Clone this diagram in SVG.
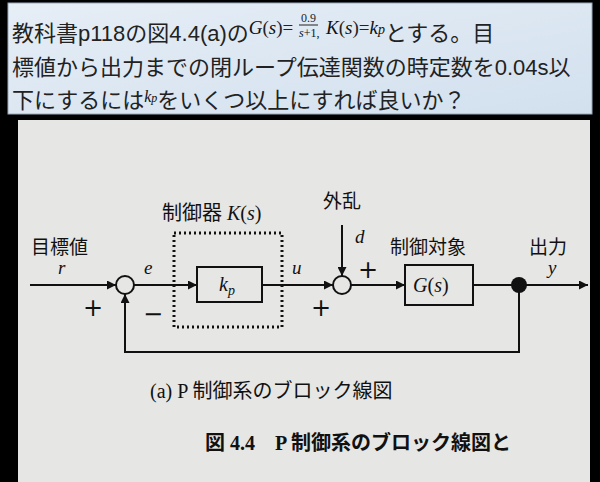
<svg xmlns="http://www.w3.org/2000/svg" width="600" height="482" viewBox="0 0 600 482">
<defs>
<marker id="ah" viewBox="0 0 10 10" refX="10" refY="5" markerWidth="9" markerHeight="9" markerUnits="userSpaceOnUse" orient="auto"><path d="M0,0L10,5L0,10z" fill="#111"/></marker>
<linearGradient id="bg" x1="0" y1="0" x2="1" y2="1"><stop offset="0" stop-color="#e6eef6"/><stop offset="1" stop-color="#d2e0ee"/></linearGradient>
<clipPath id="cp"><rect x="18" y="120" width="572" height="362"/></clipPath>
</defs>
<style>
.q{font-family:"Liberation Sans","Noto Sans CJK JP",sans-serif;font-size:22px;fill:#222}
.m{font-family:"Liberation Serif",serif;font-style:italic;fill:#111}
.j{font-family:"Noto Sans CJK JP",sans-serif;font-size:19px;fill:#111}
.s{font-family:"Liberation Serif","Noto Sans CJK JP",serif;font-size:20px;fill:#111}
.p{font-family:"DejaVu Sans",sans-serif;font-size:24px;fill:#111}
.ln{stroke:#111;stroke-width:2;fill:none}
</style>
<rect width="600" height="482" fill="#000"/>
<rect x="8" y="3" width="584" height="111" fill="url(#bg)" stroke="#9ab" stroke-width="1"/>
<text class="q" x="12" y="41">教科書p118の図4.4(a)の<tspan class="m" font-size="19" dy="-7">G</tspan><tspan font-family="Liberation Serif" font-size="19">(</tspan><tspan class="m" font-size="19">s</tspan><tspan font-family="Liberation Serif" font-size="19">)=</tspan></text>
<text font-family="Liberation Serif" font-size="12" x="301" y="22" fill="#222">0.9</text>
<line x1="299" y1="25" x2="318" y2="25" stroke="#222" stroke-width="1"/>
<text class="m" font-size="12" x="299" y="37">s<tspan font-style="normal">+1,</tspan></text>
<text class="q" x="326" y="41"><tspan class="m" font-size="19" dy="-7">K</tspan><tspan font-family="Liberation Serif" font-size="19">(</tspan><tspan class="m" font-size="19">s</tspan><tspan font-family="Liberation Serif" font-size="19">)=</tspan><tspan class="m" font-size="19">k</tspan><tspan class="m" font-size="14">p</tspan><tspan dy="7">とする。目</tspan></text>
<text class="q" x="12" y="75">標値から出力までの閉ループ伝達関数の時定数を0.04s以</text>
<text class="q" x="12" y="108">下にするには<tspan class="m" font-size="16" dy="-6">k</tspan><tspan class="m" font-size="12">p</tspan><tspan dy="6">をいくつ以上にすれば良いか？</tspan></text>
<rect x="18" y="120" width="572" height="362" fill="#e6e6e4"/>
<g id="connectors">
<line class="ln" x1="30" y1="285" x2="116" y2="285" marker-end="url(#ah)"/>
<line class="ln" x1="134" y1="285" x2="197" y2="285" marker-end="url(#ah)"/>
<line class="ln" x1="262" y1="285" x2="333" y2="285" marker-end="url(#ah)"/>
<line class="ln" x1="342" y1="225" x2="342" y2="276" marker-end="url(#ah)"/>
<line class="ln" x1="351" y1="285" x2="405" y2="285" marker-end="url(#ah)"/>
<line class="ln" x1="473" y1="285" x2="588" y2="285" marker-end="url(#ah)"/>
<polyline class="ln" points="519,285 519,352 125,352 125,294" marker-end="url(#ah)"/>
</g>
<g id="sum1"><circle cx="125" cy="285" r="9" fill="#e6e6e4" stroke="#111" stroke-width="2"/></g>
<g id="controller"><rect x="174" y="233" width="108" height="94" fill="none" stroke="#111" stroke-width="3" stroke-dasharray="2,3"/>
<text class="s" x="162" y="220">制御器 <tspan class="m">K</tspan>(<tspan class="m">s</tspan>)</text></g>
<g id="kp"><rect x="197" y="267" width="65" height="35" fill="#e6e6e4" stroke="#111" stroke-width="2"/>
<text class="m" font-size="20" x="219" y="291">k<tspan font-size="14" dy="4">p</tspan></text></g>
<g id="sum2"><circle cx="342" cy="285" r="9" fill="#e6e6e4" stroke="#111" stroke-width="2"/></g>
<g id="plant"><rect x="405" y="265" width="68" height="40" fill="#e6e6e4" stroke="#111" stroke-width="2"/>
<text class="s" x="413" y="292"><tspan class="m">G</tspan>(<tspan class="m">s</tspan>)</text></g>
<g id="output"><circle cx="519" cy="285" r="8" fill="#111"/></g>
<g id="labels">
<text class="j" x="31" y="254">目標値</text>
<text class="m" font-size="19" x="58" y="274">r</text>
<text class="p" x="83" y="316">+</text>
<text class="p" x="143" y="322">−</text>
<text class="m" font-size="19" x="144" y="274">e</text>
<text class="m" font-size="19" x="292" y="274">u</text>
<text class="j" x="323" y="208">外乱</text>
<text class="m" font-size="19" x="355" y="243">d</text>
<text class="p" x="358" y="278">+</text>
<text class="p" x="311" y="316">+</text>
<text class="j" x="390" y="254">制御対象</text>
<text class="j" x="529" y="254">出力</text>
<text class="m" font-size="19" x="548" y="274">y</text>
</g>
<g clip-path="url(#cp)">
<text class="s" x="150" y="398" font-size="22">(a) P 制御系のブロック線図</text>
<text class="s" x="205" y="450" font-size="21" font-weight="bold">図 4.4　P 制御系のブロック線図と</text>
</g>
</svg>
